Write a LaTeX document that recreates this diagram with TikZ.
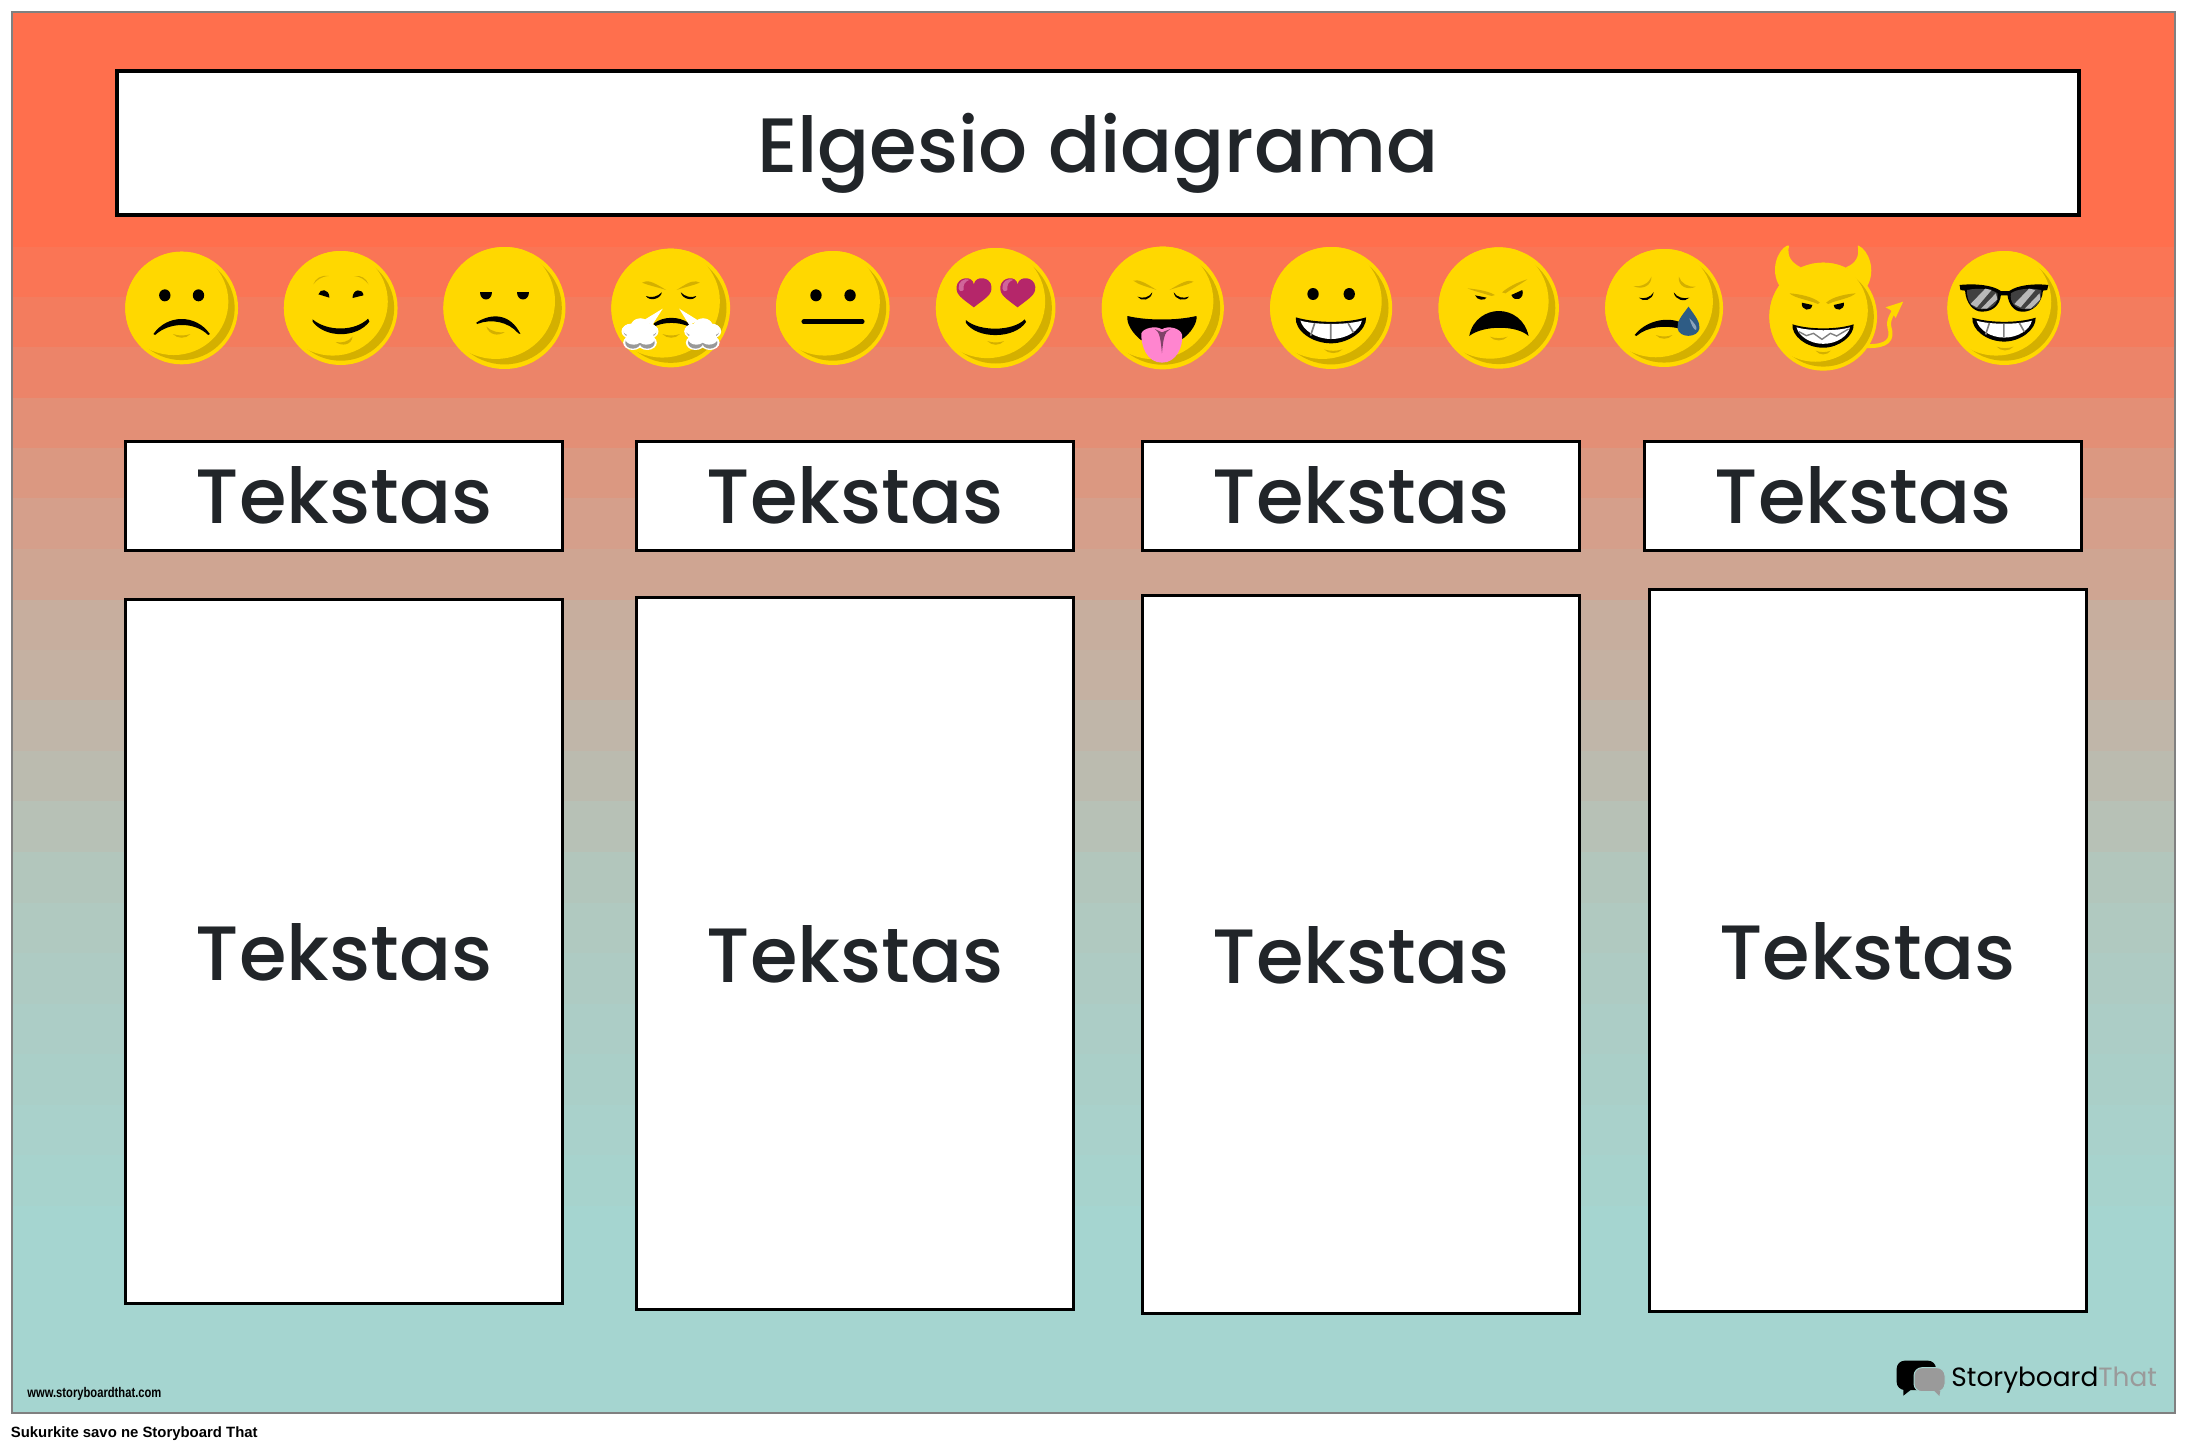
\documentclass[tikz,border=0pt]{standalone}
\usepackage{fontspec}
\setmainfont{Liberation Sans}
\newfontfamily\popf{Poppins Medium}
\newfontfamily\logof{Poppins}
\newfontfamily\narrowf{Liberation Sans Bold}[FakeStretch=0.8]
\newfontfamily\creditf{Liberation Sans Bold}
\definecolor{topc}{HTML}{FF6F4D}
\definecolor{botc}{HTML}{A5D5D0}
\definecolor{inkc}{HTML}{212529}
\definecolor{emoc}{HTML}{FFD800}
\definecolor{emod}{HTML}{D4B000}
\definecolor{heartc}{HTML}{B5266A}
\definecolor{heartl}{HTML}{D0659A}
\definecolor{pinkc}{HTML}{FF85CF}
\definecolor{tearc}{HTML}{2E5C85}
\definecolor{logog}{HTML}{9A9A9A}
\tikzset{
  paper/.style={draw=black,line width=1.5pt,fill=white,inner sep=0pt,text=inkc,text depth=0pt,font=\popf\fontsize{38.5}{40}\selectfont},
  emo/.style={fill=emoc},
  shad/.style={fill=emod},
  blk/.style={fill=black},
  crop/.style={shift={(#1)},xscale=0.42088,yscale=0.33333},
}
\newcommand{\emoface}[4]{%
  \fill[emo] (#1,#2) ellipse [x radius=#3,y radius=#4];
  \begin{scope}
  \clip (#1,#2) ellipse [x radius=#3,y radius=#4];
  \fill[shad] (#1,#2) ellipse [x radius={.94*#3},y radius={.925*#4}];
  \fill[emo] ({#1-.142*#3},{#2-.112*#4}) ellipse [x radius={.97*#3},y radius={.947*#4}];
  \end{scope}
}
\newcommand{\chinmark}[3]{\fill[shad,shift={(#1,#2)},xscale=#3] (-1,0) .. controls (-.33,6) and (.33,6) .. (1,0) .. controls (.5,15) and (-.5,15) .. cycle;}
\newcommand{\roundeye}[2]{\fill[blk] (#1,#2) ellipse [x radius=13.5,y radius=18];}
\newcommand{\grinmouth}[4]{%
  \begin{scope}[shift={(#1,#2)},xscale=#3,yscale=#4]
    \fill[blk] (-84,0) .. controls (-37,18) and (38,18) .. (83,0) .. controls (85,38) and (43,78) .. (0,78) .. controls (-47,78) and (-87,38) .. (-84,0) -- cycle;
    \fill[white] (-73,10) .. controls (-37,23) and (38,23) .. (73,10) .. controls (68,38) and (38,65) .. (0,65) .. controls (-37,65) and (-67,38) .. (-73,10) -- cycle;
  \end{scope}}
\newcommand{\grinteeth}[4]{%
  \begin{scope}[shift={(#1,#2)},xscale=#3,yscale=#4]
    \draw[gray,line width=.8pt] (-39,17) -- (-49,55) (-1,20) -- (-1,65) (40,17) -- (53,46);
  \end{scope}}
\newcommand{\heartshape}[2]{%
  \begin{scope}[shift={(#1,#2)}]
    \fill[heartc] (0,47) .. controls (-28,20) and (-43,10) .. (-41,-15) .. controls (-38,-45) and (-3,-50) .. (0,-22) .. controls (4,-50) and (40,-45) .. (42,-15) .. controls (44,10) and (27,20) .. (0,47) -- cycle;
    \fill[heartl] (-36,-10) .. controls (-38,-30) and (-23,-42) .. (-10,-36) .. controls (-22,-30) and (-26,-20) .. (-24,-5) .. controls (-30,0) and (-34,0) .. (-36,-10) -- cycle;
  \end{scope}}
\newcommand{\puff}[2]{%
  \begin{scope}[shift={(#1,#2)}]
    \foreach \p in {(-20,-8),(2,-24),(22,-8),(-16,26),(18,26)} \fill[white] \p ellipse [x radius=23,y radius=22];
    \foreach \p in {(-20,-8),(2,-24),(22,-8),(-16,26),(18,26)} \fill[black!40] \p ellipse [x radius=18,y radius=18];
    \foreach \p in {(-20,-13),(2,-29),(22,-13),(-14,14),(16,14),(0,0)} \fill[white] \p ellipse [x radius=20,y radius=18];
  \end{scope}}
\begin{document}
\begin{tikzpicture}[x=.5pt,y=-.5pt]
\useasboundingbox (0,0) rectangle (2189,1450);
% banded background
\fill[topc] (12,12) rectangle (2175,1413);
\foreach \a/\t in {247/6,297/13,347/21,398/31,448/40,498/47,549/53,600/62,650/65,700/70,751/75,801/80,852/85,903/88,953/90,1004/92,1054/94,1105/96,1155/98,1206/100}
  \fill[fill=botc!\t!topc] (12,\a) rectangle (2175,1413);
\draw[gray,line width=.7pt] (12,12) rectangle (2175,1413);
% title and columns
\node[paper,line width=2pt,minimum width=981pt,minimum height=72pt] (title) at (1098,143) {Elgesio diagrama};
\node[paper,minimum width=218.5pt,minimum height=54.5pt] (h1) at (344,495.5) {Tekstas};
\node[paper,minimum width=218.5pt,minimum height=54.5pt] (h2) at (855,495.5) {Tekstas};
\node[paper,minimum width=218.5pt,minimum height=54.5pt] (h3) at (1361,495.5) {Tekstas};
\node[paper,minimum width=218.5pt,minimum height=54.5pt] (h4) at (1863,495.5) {Tekstas};
\node[paper,minimum width=218.5pt,minimum height=352pt] (b1) at (344,951.5) {Tekstas};
\node[paper,minimum width=218.5pt,minimum height=356pt] (b2) at (855,953.5) {Tekstas};
\node[paper,minimum width=218.5pt,minimum height=359pt] (b3) at (1361,954.5) {Tekstas};
\node[paper,minimum width=218.5pt,minimum height=361pt] (b4) at (1867.5,950.5) {Tekstas};
% emojis, first group
\begin{scope}[crop={100,230}]
  \emoface{194}{234}{134}{169}
  \roundeye{154}{196}\roundeye{234}{196}
  \fill[blk] (127,312) .. controls (160,252) and (228,252) .. (261,312) -- (257,315) .. controls (225,275) and (165,275) .. (131,315) -- cycle;
  \chinmark{194}{312}{21}
  \emoface{572}{234}{135}{171}
  \fill[blk] (519,193) .. controls (522,175) and (545,175) .. (545,203) -- cycle;
  \fill[blk] (600,204) .. controls (600,175) and (625,175) .. (626,196) -- cycle;
  \fill[shad] (507,163) .. controls (512,145) and (525,135) .. (543,138) .. controls (525,140) and (515,150) .. (507,163) -- cycle;
  \fill[shad] (638,163) .. controls (633,145) and (620,135) .. (604,138) .. controls (620,140) and (630,150) .. (638,163) -- cycle;
  \fill[blk] (505,268) .. controls (540,305) and (605,305) .. (637,266) -- (640,275) .. controls (610,325) and (535,325) .. (505,275) -- cycle;
  \fill[shad] (560,336) .. controls (575,340) and (590,335) .. (600,320) .. controls (598,345) and (575,350) .. (560,336) -- cycle;
  \emoface{961}{234}{145}{183}
  \fill[blk] (904,187) -- (932,187) .. controls (932,217) and (904,217) .. (904,187) -- cycle;
  \fill[blk] (991,187) -- (1019,187) .. controls (1019,217) and (991,217) .. (991,187) -- cycle;
  \fill[blk] (894,278) .. controls (930,248) and (975,250) .. (999,312) -- (994,310) .. controls (970,275) and (930,265) .. (896,282) -- cycle;
  \fill[shad] (918,290) .. controls (930,305) and (950,310) .. (962,306) .. controls (945,320) and (925,315) .. (918,290) -- cycle;
  \emoface{1356}{234}{141}{178}
  \fill[shad] (1288,158) .. controls (1300,150) and (1310,152) .. (1345,180) .. controls (1320,170) and (1300,165) .. (1288,158) -- cycle;
  \fill[shad] (1425,158) .. controls (1413,150) and (1403,152) .. (1370,180) .. controls (1393,170) and (1413,165) .. (1425,158) -- cycle;
  \fill[blk] (1297,198) .. controls (1310,205) and (1325,200) .. (1335,187) .. controls (1332,208) and (1305,215) .. (1297,198) -- cycle;
  \fill[blk] (1417,198) .. controls (1404,205) and (1390,200) .. (1380,187) .. controls (1383,208) and (1410,215) .. (1417,198) -- cycle;
  \fill[blk] (1316,280) .. controls (1340,258) and (1375,258) .. (1400,280) -- (1400,290) .. controls (1375,275) and (1340,275) .. (1316,290) -- cycle;
  \chinmark{1357}{312}{21}
  \puff{1282}{312}\puff{1431}{312}
  \fill[white] (1337,236) -- (1290,272) -- (1312,285) -- cycle;
  \fill[white] (1376,236) -- (1422,272) -- (1400,285) -- cycle;
\end{scope}
% second group
\begin{scope}[crop={760,230}]
  \emoface{173}{234}{135}{171}
  \roundeye{133}{196}\roundeye{214}{196}
  \draw[black,line width=2.3pt,line cap=round] (104,275) -- (243,275);
  \emoface{560}{234}{142}{180}
  \heartshape{508}{185}\heartshape{612}{185}
  \fill[blk] (489,270) .. controls (520,305) and (600,305) .. (629,268) -- (632,276) .. controls (605,328) and (515,328) .. (489,278) -- cycle;
  \chinmark{560}{333}{20}
  \emoface{957}{234}{145}{184}
  \fill[shad] (887,152) .. controls (899,148) and (912,155) .. (942,180) .. controls (920,170) and (900,165) .. (887,152) -- cycle;
  \fill[shad] (1030,155) .. controls (1018,148) and (1005,155) .. (973,180) .. controls (995,170) and (1015,165) .. (1030,155) -- cycle;
  \fill[blk] (897,200) .. controls (910,207) and (925,202) .. (932,187) .. controls (930,210) and (905,217) .. (897,200) -- cycle;
  \fill[blk] (1019,200) .. controls (1006,207) and (990,202) .. (983,187) .. controls (985,210) and (1010,217) .. (1019,200) -- cycle;
  \fill[blk] (873,258) .. controls (920,272) and (990,272) .. (1037,258) .. controls (1040,275) and (1025,310) .. (1000,330) -- (905,330) .. controls (885,310) and (870,280) .. (873,258) -- cycle;
  \fill[pinkc] (906,310) .. controls (910,295) and (940,285) .. (955,298) .. controls (970,285) and (1000,295) .. (1003,315) .. controls (1005,350) and (990,398) .. (955,398) .. controls (920,398) and (905,350) .. (906,310) -- cycle;
  \fill[black!50!pinkc] (938,297) .. controls (950,305) and (952,330) .. (955,370) .. controls (958,330) and (960,305) .. (975,297) -- (955,307) -- cycle;
  \emoface{1357}{234}{145}{183}
  \roundeye{1314}{192}\roundeye{1400}{192}
  \grinmouth{1357}{262}{1}{1}
  \grinteeth{1357}{262}{1}{1}
  \chinmark{1362}{358}{22}
\end{scope}
% third group
\begin{scope}[crop={1420,230}]
  \emoface{187}{234}{143}{182}
  \fill[shad] (113,175) .. controls (135,178) and (160,182) .. (178,195) -- (170,198) .. controls (150,190) and (125,182) .. (113,175) -- cycle;
  \fill[shad] (255,148) .. controls (235,155) and (210,170) .. (195,187) -- (203,190) .. controls (220,175) and (240,162) .. (255,148) -- cycle;
  \fill[blk] (131,196) .. controls (135,212) and (155,212) .. (158,203) -- cycle;
  \fill[blk] (217,195) -- (243,180) .. controls (250,205) and (225,220) .. (217,195) -- cycle;
  \fill[blk] (117,318) .. controls (125,265) and (160,243) .. (187,243) .. controls (220,243) and (250,270) .. (258,318) .. controls (230,285) and (150,285) .. (117,318) -- cycle;
  \chinmark{187}{320}{21}
  \emoface{580}{234}{140}{177}
  \fill[shad] (507,168) .. controls (525,172) and (545,160) .. (550,140) .. controls (550,170) and (525,180) .. (507,168) -- cycle;
  \fill[shad] (655,170) .. controls (637,172) and (620,160) .. (615,140) .. controls (612,170) and (637,182) .. (655,170) -- cycle;
  \fill[blk] (520,203) .. controls (533,208) and (548,202) .. (555,187) .. controls (553,210) and (530,218) .. (520,203) -- cycle;
  \fill[blk] (640,203) .. controls (627,208) and (610,202) .. (603,187) .. controls (605,210) and (630,218) .. (640,203) -- cycle;
  \fill[blk] (510,315) .. controls (535,275) and (580,260) .. (615,275) -- (615,295) .. controls (580,285) and (540,290) .. (514,318) -- cycle;
  \chinmark{580}{315}{20}
  \fill[tearc] (638,230) .. controls (620,260) and (610,275) .. (612,295) .. controls (615,325) and (660,325) .. (664,295) .. controls (665,275) and (655,260) .. (638,230) -- cycle;
  \fill[tearc!55!white] (640,265) .. controls (652,280) and (660,290) .. (656,300) .. controls (650,300) and (645,285) .. (640,265) -- cycle;
  % devil
  \fill[emo] (872,47) .. controls (850,60) and (830,120) .. (855,170) -- (905,112) .. controls (885,100) and (870,80) .. (877,47) -- cycle;
  \fill[emo] (1042,47) .. controls (1065,60) and (1085,120) .. (1062,170) -- (1012,112) .. controls (1035,100) and (1045,80) .. (1040,47) -- cycle;
  \draw[emoc,line width=2pt] (1062,348) .. controls (1110,350) and (1125,330) .. (1115,290) .. controls (1112,275) and (1118,260) .. (1125,245);
  \fill[emo] (1148,215) -- (1106,232) -- (1118,240) -- (1130,264) -- cycle;
  \emoface{958}{260}{128}{162}
  \fill[shad] (878,190) .. controls (900,192) and (935,200) .. (950,218) -- (945,222) .. controls (925,210) and (890,205) .. (878,190) -- cycle;
  \fill[shad] (1035,190) .. controls (1013,192) and (980,200) .. (965,218) -- (970,222) .. controls (990,210) and (1023,205) .. (1035,190) -- cycle;
  \fill[blk] (907,218) -- (932,225) .. controls (930,247) and (905,242) .. (907,218) -- cycle;
  \fill[blk] (1007,218) -- (983,225) .. controls (985,247) and (1010,242) .. (1007,218) -- cycle;
  \grinmouth{958}{283}{.87}{.9}
  \draw[gray,line width=.7pt] (900,305) -- (918,317) -- (935,310) -- (955,328) -- (975,310) -- (990,318) -- (1018,297);
  \chinmark{958}{362}{18}
  % sunglasses
  \emoface{1388}{234}{135}{171}
  \fill[blk] (1282,165) .. controls (1320,160) and (1360,165) .. (1380,183) -- (1400,183) .. controls (1420,165) and (1460,160) .. (1493,165) -- (1490,180) -- (1480,182) .. controls (1478,220) and (1455,247) .. (1430,245) .. controls (1410,245) and (1398,220) .. (1396,196) -- (1380,196) .. controls (1378,220) and (1365,245) .. (1335,245) .. controls (1315,245) and (1297,220) .. (1295,182) -- (1284,180) -- cycle;
  \fill[black!75] (1300,180) .. controls (1330,172) and (1360,178) .. (1372,190) .. controls (1375,215) and (1365,238) .. (1335,238) .. controls (1310,238) and (1298,210) .. (1300,180) -- cycle;
  \fill[black!75] (1476,180) .. controls (1446,172) and (1416,178) .. (1404,190) .. controls (1401,215) and (1411,238) .. (1441,238) .. controls (1466,238) and (1478,210) .. (1476,180) -- cycle;
  \fill[black!28] (1308,222) -- (1343,176) -- (1358,180) -- (1323,232) -- cycle;
  \fill[black!28] (1333,236) -- (1368,190) -- (1372,208) -- (1347,236) -- cycle;
  \fill[black!28] (1412,222) -- (1447,176) -- (1462,180) -- (1427,232) -- cycle;
  \fill[black!28] (1437,236) -- (1472,190) -- (1474,208) -- (1451,236) -- cycle;
  \grinmouth{1388}{263}{.9}{.92}
  \grinteeth{1388}{263}{.9}{.92}
  \chinmark{1390}{350}{20}
\end{scope}
% logo
\begin{scope}[shift={(1860,1340)},scale=.33333]
  \fill[black,rounded corners=4pt] (110,62) rectangle (228,150);
  \fill[black] (130,145) -- (130,167) -- (158,145) -- cycle;
  \fill[logog,draw=botc,line width=.5pt,rounded corners=4pt] (162,83) rectangle (255,155);
  \fill[logog] (222,152) -- (238,168) -- (241,152) -- cycle;
\end{scope}
\node[anchor=base west,inner sep=0pt,font=\logof\fontsize{13.2}{15}\selectfont] (logotext) at (1951,1386) {Storyboard\textcolor{logog}{That}};
% credits
\node[anchor=base west,inner sep=0pt,font=\narrowf\fontsize{7}{8}\selectfont,text=black] (site) at (27,1397) {www.storyboardthat.com};
\node[anchor=base west,inner sep=0pt,font=\creditf\fontsize{7.45}{10}\selectfont,text=black] (credit) at (10.5,1437) {Sukurkite savo ne Storyboard That};
\end{tikzpicture}
\end{document}
